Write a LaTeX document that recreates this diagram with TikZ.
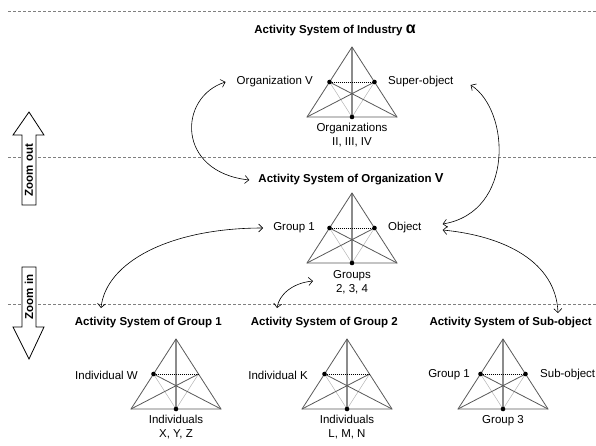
\documentclass[tikz,border=0pt]{standalone}
\usepackage{fontspec}
\setmainfont{Liberation Sans}
\usetikzlibrary{arrows.meta}
\definecolor{outc}{HTML}{595959}
\definecolor{vertc}{HTML}{8C8C8C}
\definecolor{thinc}{HTML}{B4B4B4}
\definecolor{dashc}{HTML}{7F7F7F}
\tikzset{
  lbl/.style={inner sep=0pt, font=\fontsize{11.5}{13.8}\selectfont, align=center},
  ttl/.style={inner sep=0pt, font=\fontsize{11.5}{13.8}\selectfont\bfseries},
  outln/.style={draw=outc, line width=0.8pt},
  vertln/.style={draw=vertc, line width=1.3pt},
  thinln/.style={draw=thinc, line width=0.5pt},
  dotln/.style={draw=black, line width=0.6pt, dash pattern=on 1pt off 1pt},
  sepline/.style={draw=dashc, line width=0.6pt, dash pattern=on 3pt off 2pt},
  link/.style={draw=black, line width=0.6pt, {Straight Barb[length=4pt,width=8pt]}-{Straight Barb[length=4pt,width=8pt]}},
  blockarrow/.style={draw=black, line width=0.8pt, fill=white},
  actri/.pic={
    \coordinate (-A) at (0,0);
    \coordinate (-L) at (-45,70);
    \coordinate (-R) at (45,70);
    \coordinate (-ml) at (-22.5,35);
    \coordinate (-mr) at (22.5,35);
    \coordinate (-mb) at (0,70);
    \draw[thinln] (-ml) -- (-mb) -- (-mr);
    \draw[vertln] (-A) -- (-mb);
    \draw[outln] (-L) -- (-mr) (-R) -- (-ml);
    \draw[outln, line join=miter] (-A) -- (-L) -- (-R) -- cycle;
    \draw[dotln] (-ml) -- (-mr);
  }
}
\begin{document}
\begin{tikzpicture}[x=1pt, y=-1pt]
\useasboundingbox (0,0) rectangle (596,445);

% separator lines
\draw[sepline] (8,11) -- (596,11);
\draw[sepline] (8,157) -- (596,157);
\draw[sepline] (8,304) -- (596,304);

% zoom block arrows
\draw[blockarrow] (22,205) -- (22,135) -- (13,135) -- (29,112) -- (44,135) -- (36,135) -- (36,205) -- cycle;
\draw[blockarrow] (22,267) -- (36,267) -- (36,327) -- (44,327) -- (29,359) -- (13,327) -- (22,327) -- cycle;
\node[ttl, rotate=90] (zout) at (29,170) {Zoom out};
\node[ttl, rotate=90] (zin) at (29,297) {Zoom in};

% top system
\node[ttl] (t1) at (335,30) {Activity System of Industry {\fontsize{16}{16}\selectfont α}};
\pic (s1) at (352,47) {actri};
\fill (s1-ml) circle (2.3pt) (s1-mr) circle (2.3pt) (s1-mb) circle (2.3pt);
\node[lbl, anchor=east] (orgV) at (313,82) {Organization V};
\node[lbl, anchor=west] (super) at (388,82) {Super-object};
\node[lbl, anchor=north] (orgs) at (352,123) {Organizations\\II, III, IV};

% middle system
\node[ttl] (t2) at (351,179) {Activity System of Organization {\fontsize{13}{13}\selectfont V}};
\pic (s2) at (352,193) {actri};
\fill (s2-ml) circle (2.3pt) (s2-mr) circle (2.3pt) (s2-mb) circle (2.3pt);
\node[lbl, anchor=east] (grp1) at (315,228) {Group 1};
\node[lbl, anchor=west] (obj) at (388,228) {Object};
\node[lbl, anchor=north] (grps) at (352,270) {Groups\\2, 3, 4};

% bottom systems
\node[ttl, anchor=east] (t3) at (222,323) {Activity System of Group 1};
\pic (s3) at (176,339) {actri};
\fill (s3-ml) circle (2.3pt) (s3-mb) circle (2.3pt);
\node[lbl, anchor=east] (indW) at (138,375) {Individual W};
\node[lbl, anchor=north] (indsX) at (176,415) {Individuals\\X, Y, Z};

\node[ttl, anchor=east] (t4) at (398,323) {Activity System of Group 2};
\pic (s4) at (347,339) {actri};
\fill (s4-ml) circle (2.3pt) (s4-mb) circle (2.3pt);
\node[lbl, anchor=east] (indK) at (308,375) {Individual K};
\node[lbl, anchor=north] (indsL) at (347,415) {Individuals\\L, M, N};

\node[ttl, anchor=east] (t5) at (592,323) {Activity System of Sub-object};
\pic (s5) at (503,339) {actri};
\fill (s5-ml) circle (2.3pt) (s5-mr) circle (2.3pt) (s5-mb) circle (2.3pt);
\node[lbl, anchor=east] (sg1) at (470,375) {Group 1};
\node[lbl, anchor=west] (subobj) at (540,375) {Sub-object};
\node[lbl] (sg3) at (503,421) {Group 3};

% connector end points
\coordinate (a1s) at ([xshift=-11pt]orgV.west);
\coordinate (a1e) at ([xshift=-9pt,yshift=-1pt]t2.west);
\coordinate (a2s) at ([xshift=17pt,yshift=-3pt]super.east);
\coordinate (a2e) at ([xshift=21pt,yshift=4pt]obj.east);
\coordinate (a3s) at ([xshift=21pt,yshift=-2pt]obj.east);
\coordinate (a3e) at (558,313);
\coordinate (a4s) at ([xshift=-10pt]grp1.west);
\coordinate (a4e) at (101,308);
\coordinate (a5s) at (313,281);
\coordinate (a5e) at (277,308);

\draw[link] (a1s) .. controls (178,97) and (176,172) .. (a1e);
\draw[link] (a2s) .. controls (510,110) and (515,212) .. (a2e);
\draw[link] (a3s) .. controls (505,236) and (556,262) .. (a3e);
\draw[link] (a4s) .. controls (170,228) and (106,262) .. (a4e);
\draw[link] (a5s) .. controls (292,283) and (279,295) .. (a5e);
\end{tikzpicture}
\end{document}
